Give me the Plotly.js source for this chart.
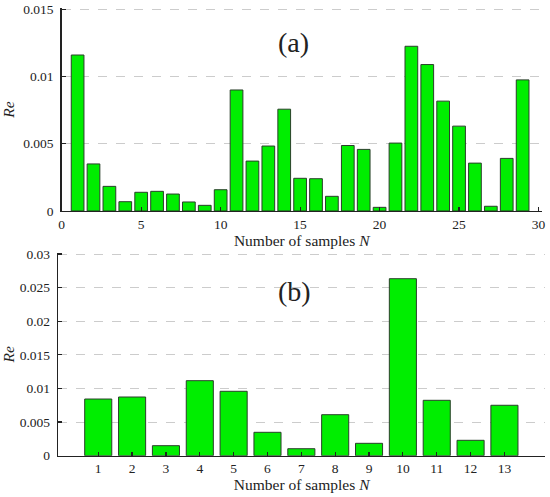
<!DOCTYPE html>
<html>
<head>
<meta charset="utf-8">
<script src="https://cdn.plot.ly/plotly-3.0.1.min.js"></script>
<style>html,body{margin:0;padding:0;background:#fff;} #chart{width:550px;height:497px;}</style>
</head>
<body>
<div id="chart"></div>
<script>
// Panel (a)
const samplesA = [1,2,3,4,5,6,7,8,9,10,11,12,13,14,15,16,17,18,19,20,21,22,23,24,25,26,27,28,29];
const reA = [0.0116,0.0035,0.00183,0.00069,0.00139,0.00146,0.00126,0.00067,0.00042,0.00158,0.0090,0.00371,0.00483,
             0.00757,0.00243,0.0024,0.00109,0.00487,0.00458,0.00027,0.00505,0.01225,0.01089,0.00817,0.00631,0.00356,0.00035,0.00391,0.00975];
// Panel (b)
const samplesB = [1,2,3,4,5,6,7,8,9,10,11,12,13];
const reB = [0.00843,0.00873,0.00149,0.01116,0.00958,0.00348,0.00104,0.0061,0.00184,0.02633,0.00824,0.00229,0.0075];
const ticksA_y = [0, 0.005, 0.01, 0.015];
const ticksA_x = [0,5,10,15,20,25,30];
const ticksB_y = [0, 0.005, 0.01, 0.015, 0.02, 0.025, 0.03];
const ticksB_x = [1,2,3,4,5,6,7,8,9,10,11,12,13];

const FONT = 'Liberation Serif, DejaVu Serif, serif';
const barStyle = {color: '#00ee00', line: {color: '#2a3f2a', width: 1}};

const traces = [
  {type:'bar', x: samplesA, y: reA, width: 0.8, marker: barStyle, xaxis:'x', yaxis:'y', hoverinfo:'x+y'},
  {type:'bar', x: samplesB, y: reB, width: 0.8, marker: barStyle, xaxis:'x2', yaxis:'y2', hoverinfo:'x+y'}
];

const axisCommon = {
  showline: true, linecolor: '#222', linewidth: 1.5,
  ticks: 'inside', ticklen: 4, tickcolor: '#222', tickwidth: 1.2,
  tickfont: {family: FONT, size: 13.5, color: '#222'},
  zeroline: false
};

const layout = {
  width: 550, height: 497,
  margin: {l:0, r:0, t:0, b:0},
  paper_bgcolor: '#fff', plot_bgcolor: '#fff',
  showlegend: false,
  bargap: 0.2,
  font: {family: FONT, color: '#222'},
  xaxis: Object.assign({}, axisCommon, {
    domain: [0.1122, 0.9849], range: [0, 30.2],
    tickmode: 'array', tickvals: ticksA_x, ticktext: ticksA_x.map(String),
    showgrid: false, anchor: 'y',
    title: {text: 'Number of samples <i>N</i>', font: {family: FONT, size: 15.5, color:'#222'}, standoff: 2}
  }),
  yaxis: Object.assign({}, axisCommon, {
    domain: [0.5755, 0.9840], range: [0, 0.0151],
    tickmode: 'array', tickvals: ticksA_y, ticktext: ['0','0.005','0.01','0.015'],
    showgrid: true, gridcolor: '#cccccc', griddash: 'dash', gridwidth: 1,
    anchor: 'x', ticklabelstandoff: 4,
    title: {text: '<i>Re</i>', font: {family: FONT, size: 15.5, color:'#222'}, standoff: 6}
  }),
  xaxis2: Object.assign({}, axisCommon, {
    domain: [0.106, 0.991], range: [-0.18, 14.2],
    tickmode: 'array', tickvals: ticksB_x, ticktext: ticksB_x.map(String),
    showgrid: false, anchor: 'y2',
    title: {text: 'Number of samples <i>N</i>', font: {family: FONT, size: 15.5, color:'#222'}, standoff: 2}
  }),
  yaxis2: Object.assign({}, axisCommon, {
    domain: [0.0831, 0.4916], range: [0, 0.0302],
    tickmode: 'array', tickvals: ticksB_y, ticktext: ['0','0.005','0.01','0.015','0.02','0.025','0.03'],
    showgrid: true, gridcolor: '#cccccc', griddash: 'dash', gridwidth: 1,
    anchor: 'x2', ticklabelstandoff: 4,
    title: {text: '<i>Re</i>', font: {family: FONT, size: 15.5, color:'#222'}, standoff: 6}
  }),
  annotations: [
    {text: '(a)', xref: 'paper', yref: 'paper', x: 293/550, y: 1 - 42/497, xanchor: 'center', yanchor: 'middle',
     showarrow: false, font: {family: FONT, size: 28, color: '#222'}},
    {text: '(b)', xref: 'paper', yref: 'paper', x: 294/550, y: 1 - 291/497, xanchor: 'center', yanchor: 'middle',
     showarrow: false, font: {family: FONT, size: 28, color: '#222'}}
  ]
};

Plotly.newPlot('chart', traces, layout, {displayModeBar: false, staticPlot: true});
</script>
</body>
</html>
